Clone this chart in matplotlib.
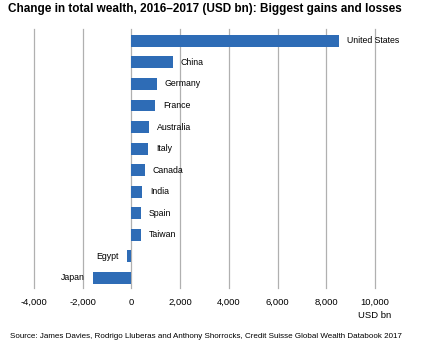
import matplotlib
matplotlib.use("Agg")
import matplotlib.pyplot as plt

plt.rcParams['font.family'] = ['Liberation Sans', 'DejaVu Sans']

countries = ["United States", "China", "Germany", "France", "Australia", "Italy",
             "Canada", "India", "Spain", "Taiwan", "Egypt", "Japan"]
values = [8540, 1700, 1040, 965, 725, 695, 545, 440, 385, 385, -190, -1570]
xticks = [-4000, -2000, 0, 2000, 4000, 6000, 8000, 10000]
xticklabels = ["-4,000", "-2,000", "0", "2,000", "4,000", "6,000", "8,000", "10,000"]

fig = plt.figure(figsize=(4.44, 3.56), dpi=100)
ax = fig.add_axes([34/444, 1-288/356, (375-34)/444, (288-29)/356])

ypos = list(range(len(countries)))
ax.barh(ypos, values, height=0.55, color="#2e6cb6", zorder=3)
ax.set_xlim(-4000, 10000)
ax.set_ylim(11.47, -0.55)
ax.set_xticks(xticks)
ax.set_xticklabels(xticklabels, fontsize=6.8)
ax.set_yticks([])
ax.tick_params(axis='x', length=0, pad=7)
for s in ax.spines.values():
    s.set_visible(False)
ax.grid(axis='x', color="#b0b0b0", linewidth=0.9, zorder=0)
for gl in ax.get_xgridlines():
    gl.set_clip_on(False)

for y, c, v in zip(ypos, countries, values):
    if v >= 0:
        ax.text(v + 330, y, c, va='center', ha='left', fontsize=6.3, zorder=4)
    else:
        ax.text(v - 330, y, c, va='center', ha='right', fontsize=6.3, zorder=4)

fig.text(8/444, 1-9/356, "Change in total wealth, 2016\u20132017 (USD bn): Biggest gains and losses",
         fontsize=8.5, fontweight='bold', ha='left', va='center')
fig.text(391/444, 1-315/356, "USD bn", fontsize=6.8, ha='right', va='center')
fig.text(10/444, 1-337/356,
         "Source: James Davies, Rodrigo Lluberas and Anthony Shorrocks, Credit Suisse Global Wealth Databook 2017",
         fontsize=5.8, ha='left', va='center')

fig.savefig("out.png", dpi=100)
